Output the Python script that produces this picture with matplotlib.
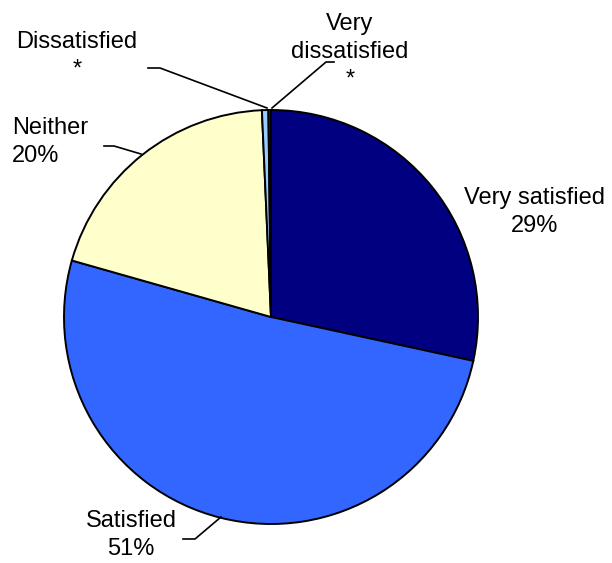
import matplotlib
matplotlib.use("Agg")
import matplotlib.pyplot as plt

categories = ["Very satisfied", "Satisfied", "Neither", "Dissatisfied", "Very dissatisfied"]
values = [28.4, 51.0, 19.9, 0.5, 0.2]
value_labels = ["29%", "51%", "20%", "*", "*"]
colors = ["#000080", "#3366FF", "#FFFFCC", "#99CCFF", "#1F1F7A"]

plt.rcParams['font.family'] = ['Liberation Sans', 'DejaVu Sans']

W, H = 612, 563
fig = plt.figure(figsize=(W / 100, H / 100), dpi=100)
cx, cy, R = 271, 317, 207
ax = fig.add_axes([(cx - R) / W, (H - cy - R) / H, 2 * R / W, 2 * R / H])

ax.pie(values, colors=colors, startangle=90, counterclock=False, radius=1,
       wedgeprops=dict(edgecolor='black', linewidth=1.4))
ax.set_xlim(-1, 1)
ax.set_ylim(-1, 1)
ax.set_aspect('equal')
ax.axis('off')

def d(px, py):
    return ((px - cx) / R, (cy - py) / R)

fs = 17
ls = 1.35
x, y = d(535, 212)
ax.text(x, y, f"{categories[0]}\n{value_labels[0]}", ha='center', va='center',
        fontsize=fs, linespacing=ls, clip_on=False)
x, y = d(131, 535)
ax.text(x, y, f"{categories[1]}\n{value_labels[1]}", ha='center', va='center',
        fontsize=fs, linespacing=ls, clip_on=False)
x, y = d(12, 142)
ax.text(x, y, f"{categories[2]}\n{value_labels[2]}", ha='left', va='center',
        fontsize=fs, linespacing=ls, multialignment='left', clip_on=False)
x, y = d(77, 56)
ax.text(x, y, f"{categories[3]}\n{value_labels[3]}", ha='center', va='center',
        fontsize=fs, linespacing=ls, clip_on=False)
x, y = d(350, 52)
ax.text(x, y, "Very\ndissatisfied\n" + value_labels[4], ha='center', va='center',
        fontsize=fs, linespacing=ls, clip_on=False)

def leader(pts):
    xs, ys = zip(*[d(px, py) for px, py in pts])
    ax.plot(xs, ys, color='black', linewidth=1.2, clip_on=False)

leader([(148, 68), (160, 68), (267, 108)])
leader([(272, 108), (326, 62), (334, 62)])
leader([(104, 146), (114, 146), (141, 154)])
leader([(183, 539), (195, 539), (221, 517)])

fig.savefig("out.png", dpi=100)
